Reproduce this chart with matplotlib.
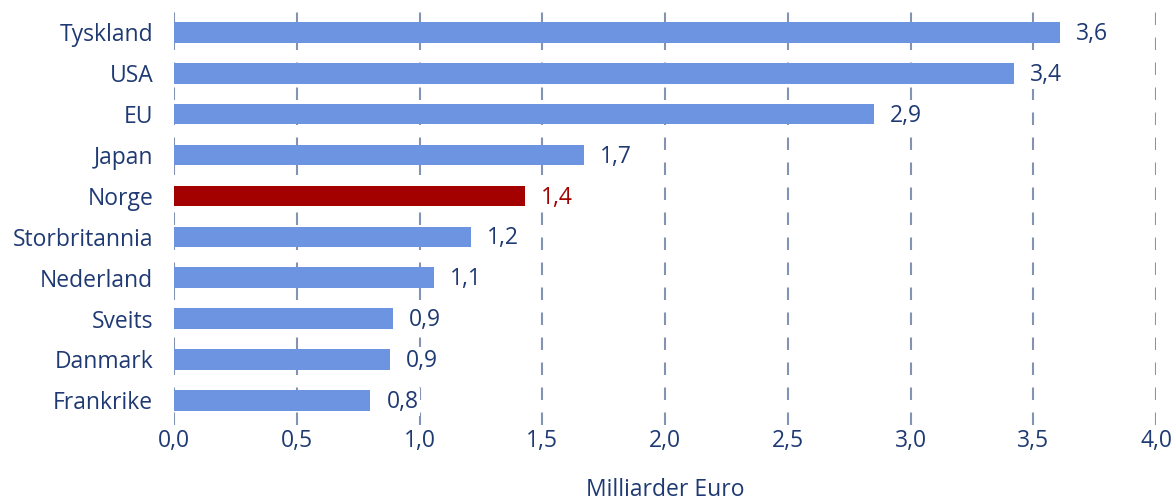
import matplotlib
matplotlib.use("Agg")
import matplotlib.pyplot as plt

# ── data ─────────────────────────────────────────────────────────
countries = ['Tyskland', 'USA', 'EU', 'Japan', 'Norge', 'Storbritannia',
             'Nederland', 'Sveits', 'Danmark', 'Frankrike']
values = [3.61, 3.42, 2.85, 1.67, 1.43, 1.21, 1.06, 0.89, 0.88, 0.80]
labels = ['3,6', '3,4', '2,9', '1,7', '1,4', '1,2', '1,1', '0,9', '0,9', '0,8']
xticks = [0.0, 0.5, 1.0, 1.5, 2.0, 2.5, 3.0, 3.5, 4.0]

BLUE = '#6c94e0'
RED = '#a30000'
TEXT = '#1f3a73'
GRID = '#8593b3'
FS = 16.5

plt.rcParams['font.family'] = ['Open Sans', 'DejaVu Sans']

fig = plt.figure(figsize=(11.76, 5.01), dpi=100)
ax = fig.add_axes([0.148, 0.152, 0.835, 0.824])

ypos = list(range(len(countries)))
colors = [RED if c == 'Norge' else BLUE for c in countries]
ax.barh(ypos, values, height=0.5, color=colors, zorder=3)

for y, v, lab, c in zip(ypos, values, labels, countries):
    ax.text(v + 0.065, y + 0.04, lab, va='center', ha='left', fontsize=FS,
            color=RED if c == 'Norge' else TEXT, zorder=4,
            bbox=dict(facecolor='white', edgecolor='none', pad=1.5))

ax.set_xlim(0, 4.0)
ax.set_ylim(9.6, -0.5)
ax.set_xticks(xticks)
ax.set_xticklabels([f"{t:.1f}".replace('.', ',') for t in xticks])
ax.set_yticks(ypos)
ax.set_yticklabels(countries)
ax.tick_params(axis='both', length=0, labelsize=FS, labelcolor=TEXT)
ax.tick_params(axis='x', pad=3)
ax.tick_params(axis='y', pad=15)

for t in xticks:
    ax.axvline(t, color=GRID, lw=1.5, ls=(0, (6, 6)), zorder=1)

for s in ax.spines.values():
    s.set_visible(False)

ax.set_xlabel('Milliarder Euro', fontsize=FS, color=TEXT, labelpad=18)

fig.savefig('out.png', dpi=100)
